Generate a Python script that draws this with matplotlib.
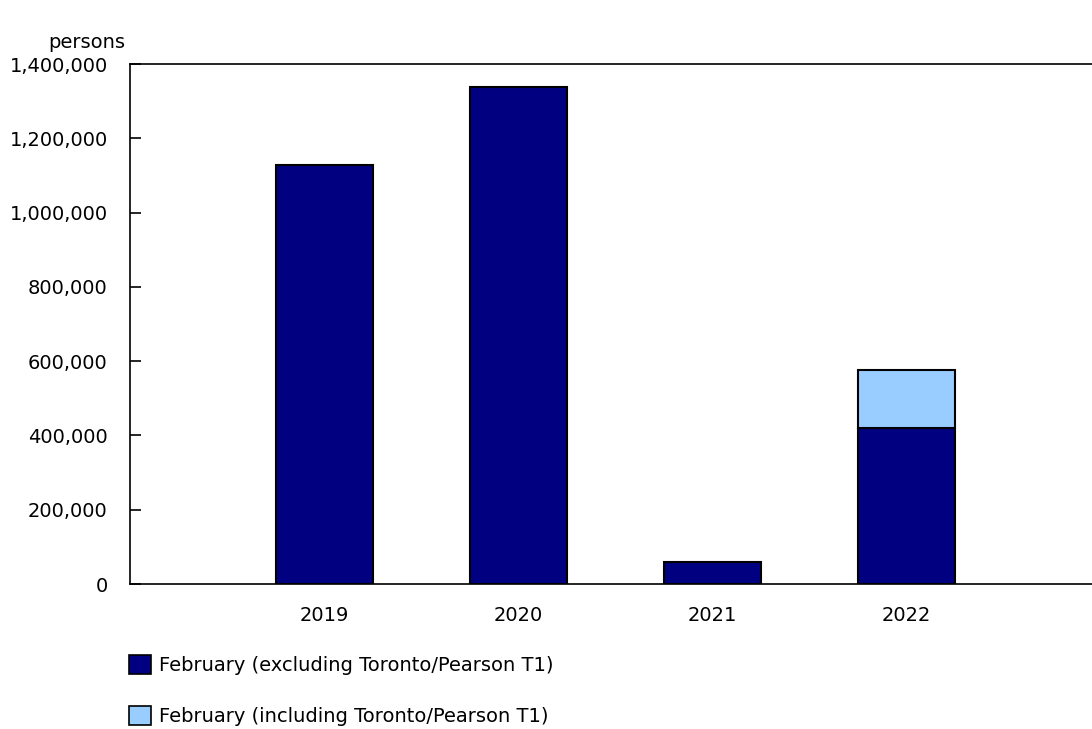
import matplotlib.pyplot as plt
import matplotlib.patches as mpatches
from matplotlib.ticker import FuncFormatter

# data
years = ["2019", "2020", "2021", "2022"]
excl_t1 = [1128000, 1338000, 59000, 420000]
incl_t1_extra = [0, 0, 0, 156000]

dark = "#000080"
light = "#99CCFF"

plt.rcParams['font.family'] = ['DejaVu Sans']
plt.rcParams['font.size'] = 14

fig = plt.figure(figsize=(10.92, 7.29), dpi=100)
ax = fig.add_axes([130/1092, 1-584/729, 970/1092, 520/729])

x = [1, 2, 3, 4]
ax.bar(x, excl_t1, width=0.5, color=dark, edgecolor="black", linewidth=1.5, zorder=3)
ax.bar(x[3:], incl_t1_extra[3:], bottom=excl_t1[3:], width=0.5, color=light,
       edgecolor="black", linewidth=1.5, zorder=3)

ax.set_xlim(0, 5)
ax.set_ylim(0, 1400000)
ax.set_yticks(range(0, 1400001, 200000))
ax.yaxis.set_major_formatter(FuncFormatter(lambda v, p: f"{int(v):,}"))
ax.set_xticks(x)
ax.set_xticklabels(years)
ax.tick_params(axis="x", length=0, pad=16)
ax.tick_params(axis="y", direction="in", length=8, width=1.2, pad=16)
ax.spines["right"].set_visible(False)
for s in ["left", "top", "bottom"]:
    ax.spines[s].set_linewidth(1.2)

fig.text(48/1092, 1-42/729, "persons", va="center", ha="left")

h1 = mpatches.Patch(facecolor=dark, edgecolor="black", linewidth=1.2)
h2 = mpatches.Patch(facecolor=light, edgecolor="black", linewidth=1.2)
fig.legend([h1, h2],
           ["February (excluding Toronto/Pearson T1)",
            "February (including Toronto/Pearson T1)"],
           loc="upper left", bbox_to_anchor=(129/1092, 1-655/729),
           frameon=False, borderpad=0, borderaxespad=0,
           handlelength=1.12, handleheight=1.12,
           handletextpad=0.42, labelspacing=1.6)

fig.savefig("out.png", dpi=100)
